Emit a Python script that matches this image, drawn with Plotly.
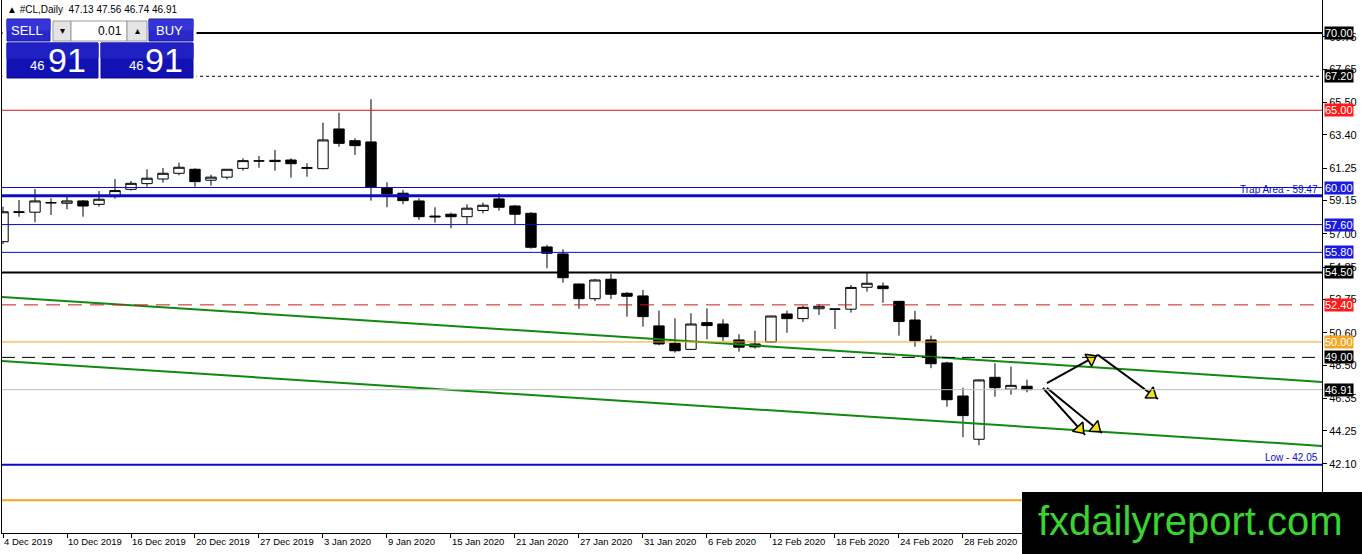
import numpy as np
import pandas as pd
import plotly.graph_objects as go

# daily bars (#CL, Daily)
dates = ["2019-12-04", "2019-12-05", "2019-12-06", "2019-12-09", "2019-12-10", "2019-12-11",
         "2019-12-12", "2019-12-13", "2019-12-16", "2019-12-17", "2019-12-18", "2019-12-19",
         "2019-12-20", "2019-12-23", "2019-12-24", "2019-12-26", "2019-12-27", "2019-12-30",
         "2019-12-31", "2020-01-02", "2020-01-03", "2020-01-06", "2020-01-07", "2020-01-08",
         "2020-01-09", "2020-01-10", "2020-01-13", "2020-01-14", "2020-01-15", "2020-01-16",
         "2020-01-17", "2020-01-20", "2020-01-21", "2020-01-22", "2020-01-23", "2020-01-24",
         "2020-01-27", "2020-01-28", "2020-01-29", "2020-01-30", "2020-01-31", "2020-02-03",
         "2020-02-04", "2020-02-05", "2020-02-06", "2020-02-07", "2020-02-10", "2020-02-11",
         "2020-02-12", "2020-02-13", "2020-02-14", "2020-02-17", "2020-02-18", "2020-02-19",
         "2020-02-20", "2020-02-21", "2020-02-24", "2020-02-25", "2020-02-26", "2020-02-27",
         "2020-02-28", "2020-03-02", "2020-03-03", "2020-03-04", "2020-03-05"]
opens = [56.49, 58.43, 58.40, 59.00, 58.98, 59.13, 58.91, 59.41, 59.88, 60.25, 60.55, 60.92,
         61.18, 60.47, 60.67, 61.24, 61.72, 61.76, 61.78, 61.24, 61.22, 63.79, 63.03, 62.95,
         59.99, 59.63, 59.13, 58.15, 58.27, 58.11, 58.51, 59.26, 58.80, 58.33, 56.15, 55.70,
         53.75, 52.80, 54.06, 53.15, 52.98, 51.04, 49.91, 49.52, 51.25, 51.16, 50.13, 49.87,
         50.00, 51.81, 51.51, 52.15, 52.12, 52.12, 53.54, 53.62, 52.63, 51.42, 50.13, 48.64,
         46.50, 43.70, 47.71, 46.94, 47.13]
highs = [58.76, 59.19, 59.90, 59.30, 59.45, 59.19, 59.77, 60.55, 60.42, 61.18, 61.26, 61.61,
         61.24, 60.83, 61.18, 61.89, 62.04, 62.43, 61.89, 61.57, 64.20, 64.84, 63.19, 65.71,
         60.34, 59.84, 59.30, 58.72, 58.37, 58.91, 59.02, 59.63, 58.87, 58.40, 56.28, 56.00,
         53.78, 54.08, 54.40, 53.22, 53.37, 52.03, 51.53, 51.86, 52.18, 51.47, 50.50, 50.73,
         51.70, 52.03, 52.35, 52.44, 52.15, 53.69, 54.49, 53.86, 52.66, 52.01, 50.41, 48.72,
         47.04, 47.58, 48.62, 48.40, 47.56]
lows = [56.34, 58.11, 57.75, 58.22, 58.59, 58.11, 58.76, 59.28, 59.80, 60.05, 60.31, 60.79,
        60.05, 60.12, 60.53, 61.09, 61.28, 61.09, 60.64, 60.70, 61.18, 62.64, 62.11, 59.15,
        58.72, 58.91, 57.90, 57.72, 57.36, 57.64, 58.33, 58.50, 57.64, 56.04, 54.77, 53.84,
        52.15, 52.65, 52.78, 51.64, 50.99, 49.79, 49.31, 49.48, 50.17, 50.06, 49.37, 49.57,
        49.98, 50.60, 51.29, 51.75, 50.84, 51.90, 53.26, 52.54, 50.41, 49.69, 48.30, 45.81,
        43.83, 43.31, 46.46, 46.59, 46.74]
closes = [58.43, 58.39, 59.13, 59.02, 59.13, 58.80, 59.24, 59.80, 60.27, 60.60, 60.92, 61.31,
          60.38, 60.67, 61.18, 61.74, 61.72, 61.68, 61.54, 61.28, 63.08, 62.86, 62.71, 60.04,
          59.58, 59.15, 58.11, 58.10, 58.11, 58.66, 58.85, 58.72, 58.27, 56.13, 55.74, 54.16,
          52.80, 54.01, 53.09, 52.96, 51.64, 49.87, 49.43, 51.16, 51.06, 50.34, 49.66, 49.68,
          51.68, 51.51, 52.24, 52.31, 52.13, 53.53, 53.80, 53.45, 51.32, 50.08, 48.59, 46.26,
          45.23, 47.54, 47.04, 47.19, 46.91]

tick_prices = [69.75, 67.65, 65.50, 63.40, 61.25, 59.15, 57.00, 54.85, 52.75, 50.60,
               48.50, 46.35, 44.25, 42.10, 40.00]

# horizontal levels drawn on the chart
levels = [70.00, 67.20, 65.00, 60.00, 59.47, 57.60, 55.80, 54.50, 52.40, 50.00, 49.00,
          46.91, 42.05, 39.75]
tagged_levels = [70.00, 67.20, 65.00, 60.00, 57.60, 55.80, 54.50, 52.40, 50.00, 49.00, 46.91]

# channel lines (bar index, price)
channel_x = [-0.0625, 82.44]
upper_channel = [52.91, 47.41]
lower_channel = [48.77, 43.27]

# projection arrows: (x0, p0, x1, p1)
arrows = [(65.25, 47.34, 68.44, 49.16),
          (68.44, 49.16, 72.19, 46.31),
          (65.00, 47.02, 67.63, 43.98),
          (65.25, 47.02, 68.69, 44.11)]

# ---------------- styles ----------------
BLK = "#000000"
RED = "#d01818"
BLUE = "#0c0cc8"
ORANGE = "#f5a31a"
level_style = {
    70.00: (BLK, 2, "solid"), 67.20: (BLK, 1, "3px,3px"), 65.00: (RED, 1, "solid"),
    60.00: (BLUE, 1, "solid"), 59.47: (BLUE, 3, "solid"), 57.60: (BLUE, 1, "solid"),
    55.80: (BLUE, 1, "solid"), 54.50: (BLK, 2, "solid"), 52.40: (RED, 1, "14px,8px"),
    50.00: (ORANGE, 1, "solid"), 49.00: (BLK, 1, "13px,7px"), 46.91: ("#c0c0c0", 1, "solid"),
    42.05: (BLUE, 2, "solid"), 39.75: (ORANGE, 2, "solid"),
}
tag_bg = {70.00: BLK, 67.20: BLK, 65.00: "#ff1a1a", 60.00: "#1a1ae0", 57.60: "#1a1ae0",
          55.80: "#1a1ae0", 54.50: BLK, 52.40: "#ff1a1a", 50.00: "#f5a623", 49.00: BLK,
          46.91: BLK}

W, H = 1362, 554
ML, MR, MT, MB = 2, 40, 0, 21
XR = [-0.0625, 82.44]
YR = [37.63, 72.14]
plot_w = W - ML - MR
plot_h = H - MT - MB
ppx = plot_w / (XR[1] - XR[0])
ppy = plot_h / (YR[1] - YR[0])


def px(x):
    return (x - ML) / plot_w


def py(y):
    return 1 - (y - MT) / plot_h


idx = np.arange(len(dates))
dt = pd.to_datetime(dates)
tick_idx = list(range(0, 61, 4))
tick_text = [f"{dt[i].day} {dt[i].strftime('%b %Y')}" for i in tick_idx]

fig = go.Figure()
fig.add_trace(go.Candlestick(
    x=idx, open=opens, high=highs, low=lows, close=closes,
    increasing=dict(line=dict(color=BLK, width=1), fillcolor="#ffffff"),
    decreasing=dict(line=dict(color=BLK, width=1), fillcolor=BLK),
    hoverinfo="skip"))

for ys in (upper_channel, lower_channel):
    fig.add_trace(go.Scatter(x=channel_x, y=ys, mode="lines",
                             line=dict(color="#0f8a0f", width=2), hoverinfo="skip"))

for x0, p0, x1, p1 in arrows:
    fig.add_trace(go.Scatter(x=[x0, x1], y=[p0, p1], mode="lines",
                             line=dict(color=BLK, width=2), hoverinfo="skip"))
    dxp, dyp = (x1 - x0) * ppx, (p1 - p0) * ppy
    L = np.hypot(dxp, dyp)
    back = 8 / L
    ang = np.degrees(np.arctan2(dxp, dyp))
    fig.add_trace(go.Scatter(x=[x1 - (x1 - x0) * back], y=[p1 - (p1 - p0) * back],
                             mode="markers", hoverinfo="skip",
                             marker=dict(symbol="triangle-up", size=12, angle=ang,
                                         color="#f2e21c", line=dict(color=BLK, width=1.5))))

shapes = []
for lv in levels:
    c, w, d = level_style[lv]
    shapes.append(dict(type="line", xref="paper", yref="y", x0=0, x1=1, y0=lv, y1=lv,
                       line=dict(color=c, width=w, dash=d), layer="above"))

annotations = []
for lv in tagged_levels:
    annotations.append(dict(xref="paper", yref="y", x=1, y=lv, xanchor="left", xshift=2,
                            yanchor="middle", text=f"{lv:.2f}", showarrow=False,
                            bgcolor=tag_bg[lv], borderpad=0,
                            font=dict(color="#ffffff", size=11)))

annotations.append(dict(xref="paper", yref="y", x=px(1320), y=59.47, xanchor="right",
                        yanchor="bottom", yshift=-1, text="Trap Area - 59.47", showarrow=False,
                        font=dict(color=BLUE, size=10)))
annotations.append(dict(xref="paper", yref="y", x=px(1320), y=42.05, xanchor="right",
                        yanchor="bottom", yshift=0, text="Low - 42.05", showarrow=False,
                        font=dict(color=BLUE, size=10)))
annotations.append(dict(xref="paper", yref="paper", x=px(5), y=py(10), xanchor="left",
                        yanchor="middle", text="▲ #CL,Daily  47.13 47.56 46.74 46.91",
                        showarrow=False, font=dict(color=BLK, size=10)))


# one-click trading panel
def box(x0, y0, x1, y1, fill, line=None):
    shapes.append(dict(type="rect", xref="paper", yref="paper", x0=px(x0), x1=px(x1),
                       y0=py(y1), y1=py(y0), fillcolor=fill, layer="above",
                       line=dict(color=line or fill, width=1)))


def label(x, y, text, size, color="#ffffff", anchor="center"):
    annotations.append(dict(xref="paper", yref="paper", x=px(x), y=py(y), xanchor=anchor,
                            yanchor="middle", text=text, showarrow=False,
                            font=dict(color=color, size=size)))


box(3, 16, 196, 80, "#ffffff")
box(7, 19, 50, 41, "#2828cc", "#1a1aa0")
box(149, 19, 193, 41, "#2828cc", "#1a1aa0")
box(7, 20, 50, 30, "#3434d8")
box(149, 20, 193, 30, "#3434d8")
box(53, 21, 71, 41, "#e4e4e4", "#9a9a9a")
box(71, 21, 127, 41, "#ffffff", "#9a9a9a")
box(127, 21, 147, 41, "#e4e4e4", "#9a9a9a")
box(7, 43, 98, 78, "#1212b4", "#0a0a90")
box(101, 43, 193, 78, "#1212b4", "#0a0a90")
box(7, 43, 98, 58, "#2020c4")
box(101, 43, 193, 58, "#2020c4")
label(27, 31, "SELL", 13)
label(170, 31, "BUY", 13)
label(62, 31, "▾", 10, BLK)
label(137, 31, "▴", 10, BLK)
label(124, 31, "0.01", 12, BLK, "right")
label(37, 65, "46", 13)
label(67, 60, "91", 34)
label(136, 65, "46", 13)
label(164, 60, "91", 34)

# watermark
shapes.append(dict(type="rect", xref="paper", yref="paper", x0=px(1022), x1=px(1362),
                   y0=py(554), y1=py(492), fillcolor=BLK, line=dict(width=0), layer="above"))
annotations.append(dict(xref="paper", yref="paper", x=px(1190), y=py(521), xanchor="center",
                        yanchor="middle", text="fxdailyreport.com", showarrow=False,
                        font=dict(color="#38d430", size=40)))

fig.update_layout(
    width=W, height=H, margin=dict(l=ML, r=MR, t=MT, b=MB, pad=0),
    paper_bgcolor="#ffffff", plot_bgcolor="#ffffff", showlegend=False,
    font=dict(family="Liberation Sans, Arial, sans-serif", color=BLK),
    boxgap=0.35, boxgroupgap=0,
    shapes=shapes, annotations=annotations,
    xaxis=dict(range=XR, tickvals=tick_idx, ticktext=tick_text, ticks="outside", ticklen=4,
               tickcolor=BLK, ticklabelposition="outside right", tickfont=dict(size=9.5),
               showgrid=False, zeroline=False, showline=True, linecolor=BLK, mirror=True,
               rangeslider=dict(visible=False)),
    yaxis=dict(range=YR, side="right", tickvals=tick_prices,
               ticktext=[f"{v:.2f}" for v in tick_prices], ticks="outside", ticklen=4,
               tickcolor=BLK, tickfont=dict(size=11), showgrid=False, zeroline=False,
               showline=True, linecolor=BLK, mirror=True),
)

fig.write_html("out.html", config={"displayModeBar": False},
               post_script="document.body.style.margin='0';document.body.style.overflow='hidden';")
